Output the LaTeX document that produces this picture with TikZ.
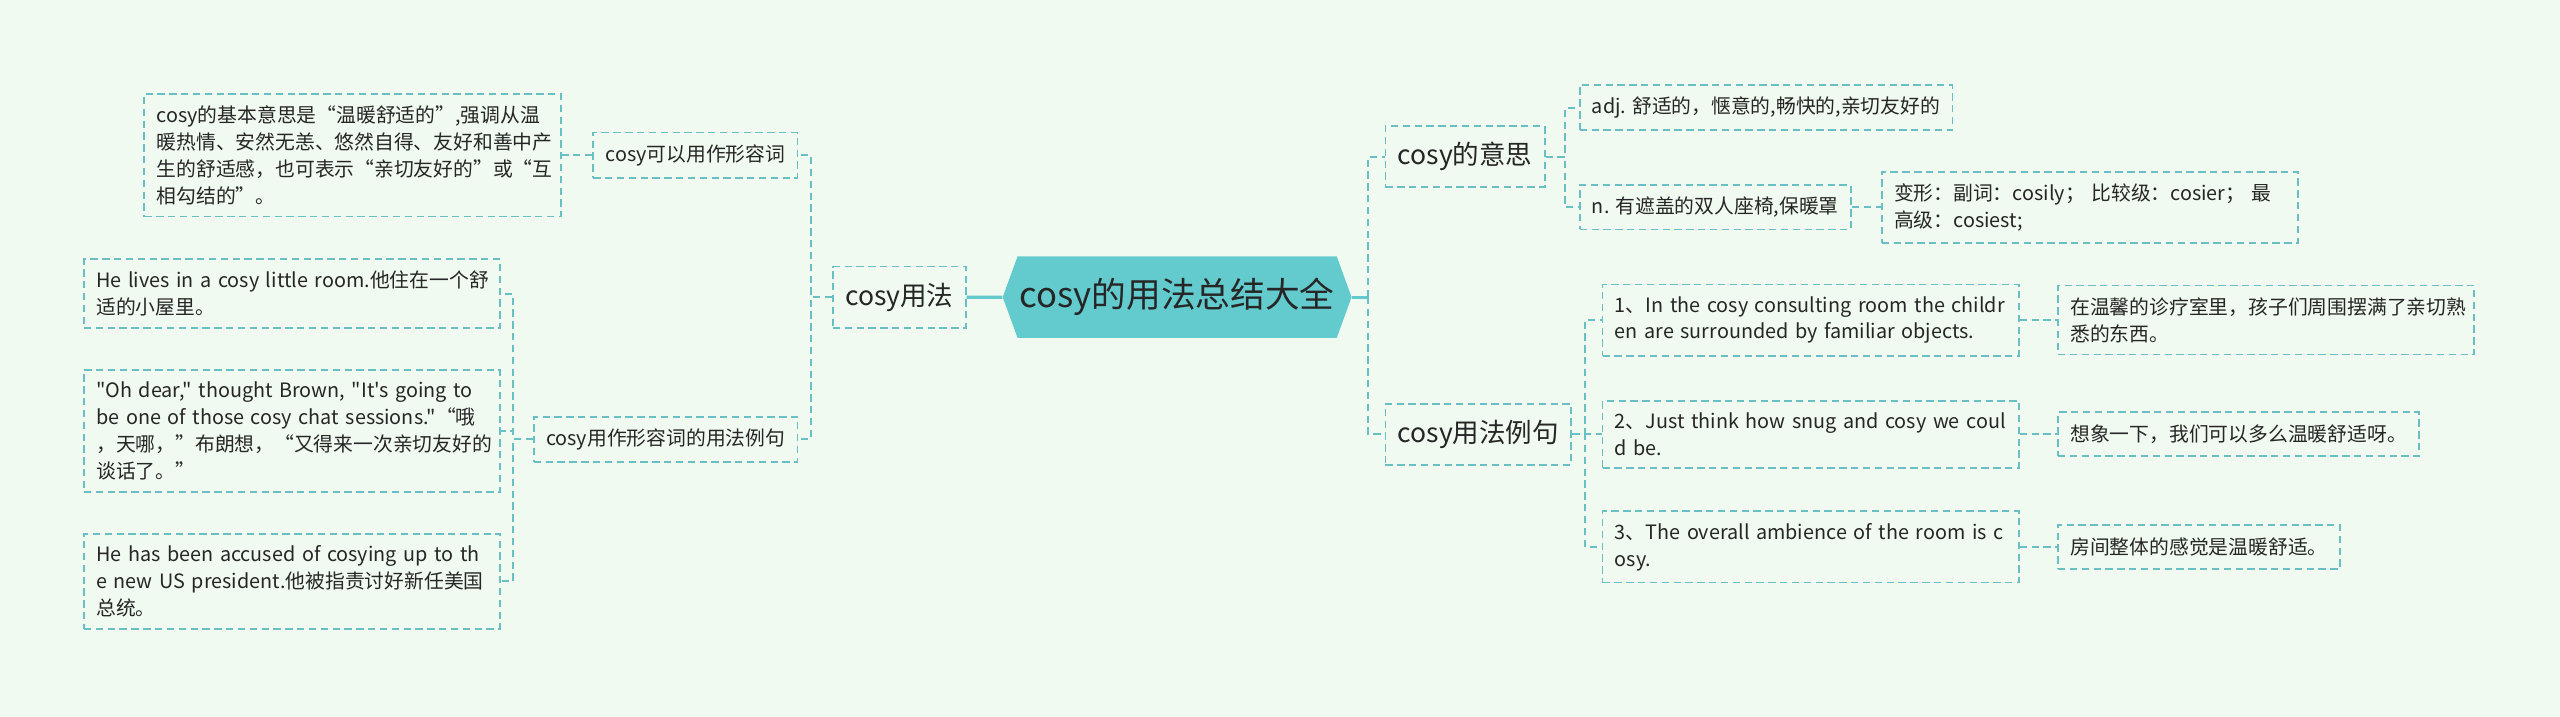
\documentclass[tikz,border=0pt]{standalone}
\usepackage{fontspec}
\newfontfamily\cjk{Noto Sans CJK SC}
\usepackage{tikz}
\usetikzlibrary{shapes.symbols, positioning}
\definecolor{bgmint}{RGB}{240,250,240}
\definecolor{mmroot}{RGB}{99,203,205}
\definecolor{mmline}{RGB}{104,192,197}

\begin{document}
\begin{tikzpicture}[x=0.8pt, y=-0.8pt,
        root/.style={signal, signal to=east and west, signal pointer angle=140, fill=mmroot,
            text=black!85, font=\cjk\fontsize{17}{20}\selectfont, minimum height=40pt, inner xsep=1pt},
        topic/.style={draw=mmline, line width=0.9pt, dash pattern=on 3.6pt off 2.2pt,
            text=black!85, font=\cjk\fontsize{13}{16}\selectfont, minimum height=30pt, inner xsep=6pt},
        leaf/.style={draw=mmline, line width=0.9pt, dash pattern=on 3.6pt off 2.2pt,
            text=black!85, font=\cjk\fontsize{9.7}{13.2}\selectfont, align=left,
            minimum height=21.6pt, inner xsep=6pt, inner ysep=5.8pt},
        wide/.style={leaf, text width=192pt},
        link/.style={draw=mmline, line width=0.9pt, dash pattern=on 3.6pt off 2.2pt},
        trunk/.style={draw=mmroot, line width=1.6pt},
        ]

        \fill[bgmint] (0,0) rectangle (1568,439);

        \node[root] (root) at (721,182) {cosy的用法总结大全};

        % 左侧
        \node[topic, anchor=east] (usage) at (592,182) {cosy用法};
        \node[leaf, anchor=east] (adjuse) at (489,95) {cosy可以用作形容词};
        \node[leaf, anchor=east] (examples) at (489,269) {cosy用作形容词的用法例句};
        \node[wide, anchor=east] (basic) at (344,95) {cosy的基本意思是“温暖舒适的”,强调从温\\暖热情、安然无恙、悠然自得、友好和善中产\\生的舒适感，也可表示“亲切友好的”或“互\\相勾结的”。};
        \node[wide, anchor=east] (ex1) at (307,180) {\mbox{He lives in a cosy little room.他住在一个舒}\\适的小屋里。};
        \node[wide, anchor=east] (ex2) at (307,264) {"Oh dear," thought Brown, "It's going to\\be one of those cosy chat sessions."“哦\\，天哪，”布朗想，“又得来一次亲切友好的\\谈话了。”};
        \node[wide, anchor=east] (ex3) at (307,356) {He has been accused of cosying up to th\\e new US president.他被指责讨好新任美国\\总统。};

        \draw[trunk] (root) -- (usage);
        \draw[link] (usage.west) -- ++(-13,0) |- (adjuse.east);
        \draw[link] (usage.west) -- ++(-13,0) |- (examples.east);
        \draw[link] (adjuse.west) -- (basic.east);
        \foreach \n in {ex1,ex2,ex3}
            \draw[link] (examples.west) -- ++(-12,0) |- (\n.east);

        % 右侧
        \node[topic, anchor=west] (meaning) at (848,96) {cosy的意思};
        \node[topic, anchor=west] (sentences) at (848,266) {cosy用法例句};
        \node[leaf, anchor=west] (adj) at (967,66) {adj. 舒适的，惬意的,畅快的,亲切友好的};
        \node[leaf, anchor=west] (noun) at (967,127) {n. 有遮盖的双人座椅,保暖罩};
        \node[wide, anchor=west] (forms) at (1152,127) {变形：副词：cosily； 比较级：cosier； 最\\高级：cosiest;};
        \node[wide, anchor=west] (s1) at (981,196) {1、In the cosy consulting room the childr\\en are surrounded by familiar objects.};
        \node[wide, anchor=west] (s2) at (981,266) {2、Just think how snug and cosy we coul\\d be.};
        \node[wide, anchor=west] (s3) at (981,335) {3、The overall ambience of the room is c\\osy.};
        \node[wide, anchor=west] (t1) at (1260,196) {在温馨的诊疗室里，孩子们周围摆满了亲切熟\\悉的东西。};
        \node[leaf, anchor=west] (t2) at (1260,266) {想象一下，我们可以多么温暖舒适呀。};
        \node[leaf, anchor=west] (t3) at (1260,335) {房间整体的感觉是温暖舒适。};

        \draw[trunk] (root.east) -- ++(10,0) coordinate (rfork);
        \draw[link] (rfork) |- (meaning.west);
        \draw[link] (rfork) |- (sentences.west);
        \draw[link] (meaning.east) -- ++(12,0) |- (adj.west);
        \draw[link] (meaning.east) -- ++(12,0) |- (noun.west);
        \draw[link] (noun.east) -- (forms.west);
        \foreach \n in {s1,s2,s3}
            \draw[link] (sentences.east) -- ++(8,0) |- (\n.west);
        \draw[link] (s1.east) -- (t1.west);
        \draw[link] (s2.east) -- (t2.west);
        \draw[link] (s3.east) -- (t3.west);

        \end{tikzpicture}
\end{document}
